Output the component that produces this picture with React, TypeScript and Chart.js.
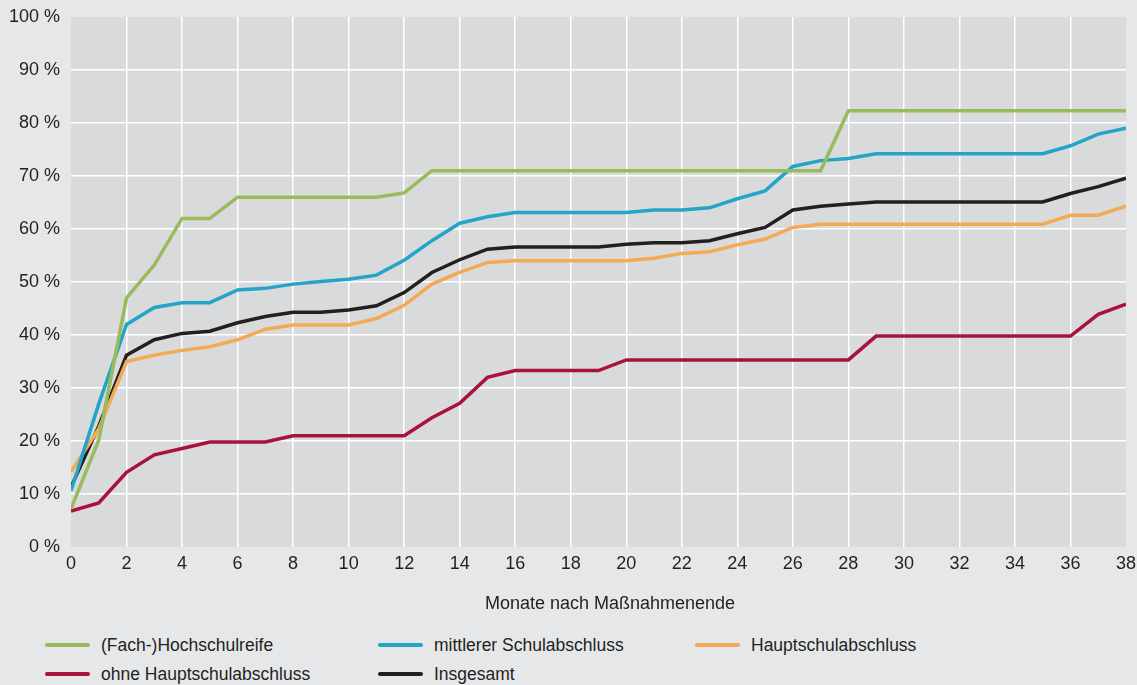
import { useEffect, useRef } from "react";
import { Chart, registerables } from "chart.js";

Chart.register(...registerables);

const months = [0, 1, 2, 3, 4, 5, 6, 7, 8, 9, 10, 11, 12, 13, 14, 15, 16, 17, 18, 19, 20, 21, 22, 23, 24, 25, 26, 27, 28, 29, 30, 31, 32, 33, 34, 35, 36, 37, 38];

const hochschulreife = [7.2, 20.2, 47, 53.2, 62, 62, 66, 66, 66, 66, 66, 66, 66.8, 71, 71, 71, 71, 71, 71, 71, 71, 71, 71, 71, 71, 71, 71, 71, 82.3, 82.3, 82.3, 82.3, 82.3, 82.3, 82.3, 82.3, 82.3, 82.3, 82.3];
const mittlerer = [10.6, 27, 42, 45.2, 46.1, 46.1, 48.5, 48.8, 49.6, 50.1, 50.5, 51.3, 54.1, 57.8, 61.1, 62.3, 63.1, 63.1, 63.1, 63.1, 63.1, 63.6, 63.6, 64.0, 65.7, 67.2, 71.8, 72.9, 73.3, 74.2, 74.2, 74.2, 74.2, 74.2, 74.2, 74.2, 75.7, 77.9, 79.0];
const hauptschul = [14.2, 22.3, 35, 36.2, 37.1, 37.8, 39.1, 41.1, 41.9, 41.9, 41.9, 43.1, 45.6, 49.6, 51.8, 53.7, 54.0, 54.0, 54.0, 54.0, 54.0, 54.5, 55.4, 55.7, 57.0, 58.1, 60.3, 60.9, 60.9, 60.9, 60.9, 60.9, 60.9, 60.9, 60.9, 60.9, 62.6, 62.6, 64.3];
const ohneHaupt = [6.8, 8.3, 14.1, 17.4, 18.6, 19.8, 19.8, 19.8, 21, 21, 21, 21, 21, 24.4, 27.1, 32, 33.3, 33.3, 33.3, 33.3, 35.3, 35.3, 35.3, 35.3, 35.3, 35.3, 35.3, 35.3, 35.3, 39.8, 39.8, 39.8, 39.8, 39.8, 39.8, 39.8, 39.8, 43.9, 45.8];
const insgesamt = [11.3, 22.8, 36.2, 39.1, 40.3, 40.7, 42.3, 43.5, 44.3, 44.3, 44.7, 45.5, 48, 51.8, 54.2, 56.2, 56.6, 56.6, 56.6, 56.6, 57.1, 57.4, 57.4, 57.8, 59.1, 60.3, 63.6, 64.3, 64.7, 65.1, 65.1, 65.1, 65.1, 65.1, 65.1, 65.1, 66.7, 68.0, 69.6];

const seriesNames = ["(Fach-)Hochschulreife", "mittlerer Schulabschluss", "Hauptschulabschluss", "ohne Hauptschulabschluss", "Insgesamt"];
const seriesValues = [hochschulreife, mittlerer, hauptschul, ohneHaupt, insgesamt];
const seriesColors = ["#98bb5c", "#24a4c6", "#f2aa55", "#a9133a", "#231f20"];

const xTitle = "Monate nach Maßnahmenende";

const FONT = "'Liberation Sans', Arial, sans-serif";
const TEXT = "#231f20";
const PAGE_BG = "#e6e7e9";
const PLOT_BG = "#d9dadc";

const plotBg = {
  id: "plotBg",
  beforeDraw(chart: any) {
    const { ctx, chartArea } = chart;
    if (!chartArea) return;
    ctx.save();
    ctx.fillStyle = PLOT_BG;
    ctx.fillRect(chartArea.left, chartArea.top, chartArea.right - chartArea.left, chartArea.bottom - chartArea.top);
    ctx.restore();
  },
};

export default function App() {
  const ref = useRef<HTMLCanvasElement | null>(null);

  useEffect(() => {
    if (!ref.current) return;
    const chart = new Chart(ref.current, {
      type: "line",
      data: {
        datasets: seriesNames.map((name, i) => ({
          label: name,
          data: months.map((m, j) => ({ x: m, y: seriesValues[i][j] })),
          borderColor: seriesColors[i],
          backgroundColor: seriesColors[i],
          borderWidth: 3.5,
          pointRadius: 0,
          tension: 0,
          fill: false,
        })),
      },
      options: {
        responsive: false,
        animation: false,
        layout: { padding: { left: 0, right: 11, top: 17, bottom: 0 } },
        plugins: {
          legend: { display: false },
          tooltip: { enabled: false },
        },
        scales: {
          x: {
            type: "linear",
            min: 0,
            max: 38,
            border: { display: false },
            grid: {
              color: (c: any) => (c.tick && (c.tick.value === 0 || c.tick.value === 38) ? "rgba(0,0,0,0)" : "#ffffff"),
              lineWidth: 1.5,
              drawTicks: false,
            },
            ticks: {
              stepSize: 2,
              autoSkip: false,
              maxRotation: 0,
              padding: 6,
              color: TEXT,
              font: { family: FONT, size: 18 },
            },
            afterFit: (s: any) => {
              s.height = 78;
              s.paddingLeft = 0;
              s.paddingRight = 0;
            },
          },
          y: {
            min: 0,
            max: 100,
            border: { display: false },
            grid: {
              color: (c: any) => (c.tick && (c.tick.value === 0 || c.tick.value === 100) ? "rgba(0,0,0,0)" : "#ffffff"),
              lineWidth: 1.5,
              drawTicks: false,
            },
            ticks: {
              stepSize: 10,
              padding: 11,
              color: TEXT,
              font: { family: FONT, size: 18 },
              callback: (v: any) => `${v} %`,
            },
            afterFit: (s: any) => {
              s.width = 71;
              s.paddingTop = 0;
              s.paddingBottom = 0;
            },
          },
        },
      },
      plugins: [plotBg],
    });
    return () => chart.destroy();
  }, []);

  const legendCols = [45, 378, 695];
  const legendRows = [645, 674];

  return (
    <div style={{ position: "fixed", left: 0, top: 0, width: 1137, height: 685, background: PAGE_BG, overflow: "hidden" }}>
      <canvas ref={ref} width={1137} height={625} style={{ position: "absolute", left: 0, top: 0, width: 1137, height: 625 }} />
      <div
        style={{
          position: "absolute",
          left: 410,
          width: 400,
          top: 591,
          height: 24,
          lineHeight: "24px",
          textAlign: "center",
          fontFamily: FONT,
          fontSize: 18,
          color: TEXT,
          whiteSpace: "nowrap",
        }}
      >
        {xTitle}
      </div>
      {seriesNames.map((name, i) => (
        <div
          key={name}
          style={{
            position: "absolute",
            left: legendCols[i % 3],
            top: legendRows[Math.floor(i / 3)] - 12,
            height: 24,
            display: "flex",
            alignItems: "center",
            fontFamily: FONT,
            fontSize: 17.5,
            color: TEXT,
            whiteSpace: "nowrap",
          }}
        >
          <span style={{ display: "inline-block", width: 45, height: 4, background: seriesColors[i], marginRight: 11, borderRadius: 2 }} />
          <span>{name}</span>
        </div>
      ))}
    </div>
  );
}
